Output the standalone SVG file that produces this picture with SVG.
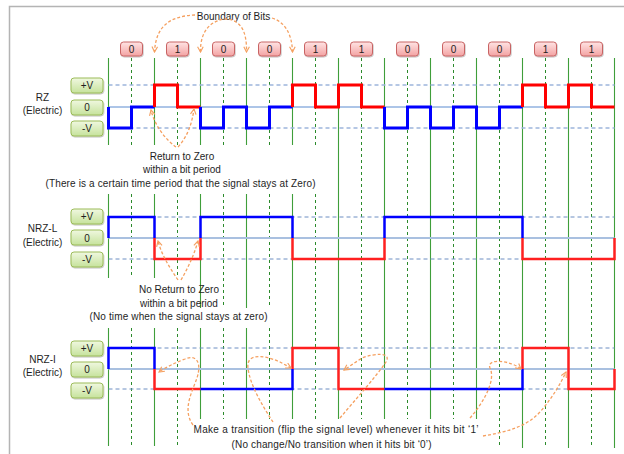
<svg xmlns="http://www.w3.org/2000/svg" width="624" height="454" viewBox="0 0 624 454">
<style>
text{font-family:"Liberation Sans",Arial,sans-serif;font-size:10px;fill:#1e1e1e;text-anchor:middle}
.frame{fill:#fff;stroke:#b4b4b4;stroke-width:1.5}
.gs{fill:none;stroke:#3f9e3a;stroke-width:1.1}
.gd{fill:none;stroke:#2b8a2b;stroke-width:1;stroke-dasharray:3,3}
.lvd{fill:none;stroke:#9db5dc;stroke-width:1.5;stroke-dasharray:4,3}
.lvz{fill:none;stroke:#5b8bd0;stroke-width:1}
.nd{fill:none;stroke:#6d8ec2;stroke-width:1;stroke-dasharray:4,3}
.nz{fill:none;stroke:#a9c0e0;stroke-width:2}
.blue{fill:none;stroke:#0000ff;stroke-width:3}
.red{fill:none;stroke:#ff0000;stroke-width:3}
.bn{fill:none;stroke:#0000ff;stroke-width:2.5}
.rn{fill:none;stroke:#ff2020;stroke-width:2.5}
.bit{fill:url(#pink);stroke:#c86464;stroke-width:1;filter:url(#sh)}
.lvl{fill:url(#green);stroke:#9bbb59;stroke-width:1;filter:url(#sh)}
.ann{fill:none;stroke:#f5a060;stroke-width:1.3;stroke-dasharray:3,2}
</style>
<defs>
<linearGradient id="pink" x1="0" y1="0" x2="0" y2="1"><stop offset="0" stop-color="#ffe4e4"/><stop offset="1" stop-color="#f3a3a3"/></linearGradient>
<linearGradient id="green" x1="0" y1="0" x2="0" y2="1"><stop offset="0" stop-color="#f0f8e0"/><stop offset="1" stop-color="#c6e29c"/></linearGradient>
<filter id="sh" x="-20%" y="-20%" width="140%" height="150%"><feDropShadow dx="0.6" dy="1" stdDeviation="0.6" flood-color="#000" flood-opacity="0.25"/></filter>
<marker id="ah" viewBox="0 0 8 8" refX="7" refY="4" markerWidth="7" markerHeight="7" markerUnits="userSpaceOnUse" orient="auto-start-reverse"><path d="M1,0.8 L7,4 L1,7.2" fill="none" stroke="#f5a060" stroke-width="1.3"/></marker>
</defs>
<rect class="frame" x="9.5" y="6.5" width="700" height="500"/>

<g id="grid">
<path class="gs" d="M108.5,58V145M108.5,194V278M108.5,328V446M154.5,58V145M154.5,194V278M154.5,328V446M200.5,58V145M200.5,194V308M200.5,328V419M246.5,58V145M246.5,194V308M246.5,328V419M292.5,58V145M292.5,194V419M338.5,58V419M384.5,58V419M430.5,58V419M476.5,58V419M522.5,58V448M568.5,58V448M614.5,58V448"/>
<path class="gd" d="M131.5,58V145M131.5,194V278M131.5,328V446M177.5,58V145M177.5,194V278M177.5,328V446M223.5,58V145M223.5,194V308M223.5,328V419M269.5,58V145M269.5,194V308M269.5,328V419M315.5,58V145M315.5,194V419M361.5,58V419M407.5,58V419M453.5,58V419M499.5,58V448M545.5,58V448M591.5,58V448"/>
</g>

<g id="levels">
<path class="lvd" d="M108.5,85H614.5M108.5,128H614.5"/>
<path class="lvz" d="M108.5,107H614.5"/>
<path class="nd" d="M108.5,217H614.5M108.5,259H614.5M108.5,348H614.5M108.5,389H614.5"/>
<path class="nz" d="M108.5,238H614.5M108.5,369H614.5"/>
</g>

<g id="rz-signal">
<path class="blue" d="M108.5,107V128H131.5V107H154.5"/>
<path class="red" d="M154.5,107V85H177.5V107H200.5"/>
<path class="blue" d="M200.5,107V128H223.5V107H246.5V128H269.5V107H292.5"/>
<path class="red" d="M292.5,107V85H315.5V107H338.5V85H361.5V107H384.5"/>
<path class="blue" d="M384.5,107V128H407.5V107H430.5V128H453.5V107H476.5V128H499.5V107H522.5"/>
<path class="red" d="M522.5,107V85H545.5V107H568.5V85H591.5V107H614.5"/>
</g>

<g id="nrzl-signal">
<path class="bn" d="M108.5,238V217H154.5V238"/>
<path class="rn" d="M154.5,238V259H200.5V238"/>
<path class="bn" d="M200.5,238V217H292.5V238"/>
<path class="rn" d="M292.5,238V259H384.5V238"/>
<path class="bn" d="M384.5,238V217H522.5V238"/>
<path class="rn" d="M522.5,238V259H614.5V238"/>
</g>

<g id="nrzi-signal">
<path class="bn" d="M108.5,369V348H154.5V369"/>
<path class="rn" d="M154.5,369V389H200.5"/>
<path class="bn" d="M200.5,389H292.5V369"/>
<path class="rn" d="M292.5,369V348H338.5V389H384.5"/>
<path class="bn" d="M384.5,389H522.5V369"/>
<path class="rn" d="M522.5,369V348H568.5V389H614.5V369"/>
</g>

<g id="bits">
<g id="bit1"><rect class="bit" x="120.5" y="42" width="22" height="14" rx="3"/><text x="131.5" y="52.5">0</text></g>
<g id="bit2"><rect class="bit" x="166.5" y="42" width="22" height="14" rx="3"/><text x="177.5" y="52.5">1</text></g>
<g id="bit3"><rect class="bit" x="212.5" y="42" width="22" height="14" rx="3"/><text x="223.5" y="52.5">0</text></g>
<g id="bit4"><rect class="bit" x="258.5" y="42" width="22" height="14" rx="3"/><text x="269.5" y="52.5">0</text></g>
<g id="bit5"><rect class="bit" x="304.5" y="42" width="22" height="14" rx="3"/><text x="315.5" y="52.5">1</text></g>
<g id="bit6"><rect class="bit" x="350.5" y="42" width="22" height="14" rx="3"/><text x="361.5" y="52.5">1</text></g>
<g id="bit7"><rect class="bit" x="396.5" y="42" width="22" height="14" rx="3"/><text x="407.5" y="52.5">0</text></g>
<g id="bit8"><rect class="bit" x="442.5" y="42" width="22" height="14" rx="3"/><text x="453.5" y="52.5">0</text></g>
<g id="bit9"><rect class="bit" x="488.5" y="42" width="22" height="14" rx="3"/><text x="499.5" y="52.5">0</text></g>
<g id="bit10"><rect class="bit" x="534.5" y="42" width="22" height="14" rx="3"/><text x="545.5" y="52.5">1</text></g>
<g id="bit11"><rect class="bit" x="580.5" y="42" width="22" height="14" rx="3"/><text x="591.5" y="52.5">1</text></g>
</g>

<g id="rz-levels">
<g id="rz-pv"><rect class="lvl" x="71" y="78" width="32" height="15" rx="3"/><text x="87" y="88.5">+V</text></g>
<g id="rz-z"><rect class="lvl" x="71" y="100" width="32" height="15" rx="3"/><text x="87" y="110.5">0</text></g>
<g id="rz-nv"><rect class="lvl" x="71" y="121" width="32" height="15" rx="3"/><text x="87" y="131.5">-V</text></g>
</g>
<g id="nrzl-levels">
<g id="nrzl-pv"><rect class="lvl" x="71" y="209" width="32" height="15" rx="3"/><text x="87" y="220">+V</text></g>
<g id="nrzl-z"><rect class="lvl" x="71" y="230" width="32" height="15" rx="3"/><text x="87" y="241.5">0</text></g>
<g id="nrzl-nv"><rect class="lvl" x="71" y="252" width="32" height="15" rx="3"/><text x="87" y="262.5">-V</text></g>
</g>
<g id="nrzi-levels">
<g id="nrzi-pv"><rect class="lvl" x="71" y="341" width="32" height="15" rx="3"/><text x="87" y="351.5">+V</text></g>
<g id="nrzi-z"><rect class="lvl" x="71" y="362" width="32" height="15" rx="3"/><text x="87" y="372.5">0</text></g>
<g id="nrzi-nv"><rect class="lvl" x="71" y="383" width="32" height="15" rx="3"/><text x="87" y="393.5">-V</text></g>
</g>

<g id="labels">
<g id="lbl-rz"><text x="42.5" y="100.5">RZ</text><text x="42.5" y="114">(Electric)</text></g>
<g id="lbl-nrzl"><text x="42.5" y="232">NRZ-L</text><text x="42.5" y="245.5">(Electric)</text></g>
<g id="lbl-nrzi"><text x="42.5" y="362.5">NRZ-I</text><text x="42.5" y="376">(Electric)</text></g>
<g id="lbl-boundary"><text x="233.5" y="19.5">Boundary of Bits</text></g>
<g id="lbl-rz-note"><text x="182" y="159.5">Return to Zero</text><text x="182" y="173">within a bit period</text><text x="180.5" y="186.5" textLength="270" lengthAdjust="spacing">(There is a certain time period that the signal stays at Zero)</text></g>
<g id="lbl-nrzl-note"><text x="179" y="293">No Return to Zero</text><text x="179" y="306.5">within a bit period</text><text x="178.5" y="320" textLength="178" lengthAdjust="spacing">(No time when the signal stays at zero)</text></g>
<g id="lbl-nrzi-note"><text x="336" y="433" textLength="285" lengthAdjust="spacing">Make a transition (flip the signal level) whenever it hits bit ‘1’</text><text x="331.5" y="447.5" textLength="200" lengthAdjust="spacing">(No change/No transition when it hits bit ‘0’)</text></g>
</g>

<g id="connectors">
<path class="ann" marker-end="url(#ah)" d="M195,15 C172,16 156,24 154.5,52"/>
<path class="ann" marker-start="url(#ah)" marker-end="url(#ah)" d="M200.5,52 C200,30 212,20 226,19 C240,20 247,30 246.5,52"/>
<path class="ann" marker-end="url(#ah)" d="M272,18 C285,22 292,34 292.5,52"/>
<path class="ann" marker-end="url(#ah)" d="M176,147 C165,139 155,126 151,110"/>
<path class="ann" marker-end="url(#ah)" d="M178,147 C188,136 192,123 194,109"/>
<path class="ann" marker-end="url(#ah)" d="M178,280 C170,268 162,256 158,241"/>
<path class="ann" marker-end="url(#ah)" d="M181,280 C188,268 194,255 198,241"/>
<path class="ann" marker-end="url(#ah)" d="M193,425 C182,410 192,392 197,378 C202,362 196,354 185,359 C175,363 166,367 159,372"/>
<path class="ann" marker-end="url(#ah)" d="M273,422 C262,405 250,385 248,368 C246,354 262,354 280,362 L291,368"/>
<path class="ann" marker-end="url(#ah)" d="M340,418 C355,400 375,378 386,362 C392,352 375,353 362,358 L344,370"/>
<path class="ann" marker-end="url(#ah)" d="M470,418 C484,402 496,380 490,368 C486,358 510,360 521,369"/>
<path class="ann" marker-end="url(#ah)" d="M483,436 C505,432 525,428 540,412 C552,398 560,385 566,372"/>
</g>
</svg>
